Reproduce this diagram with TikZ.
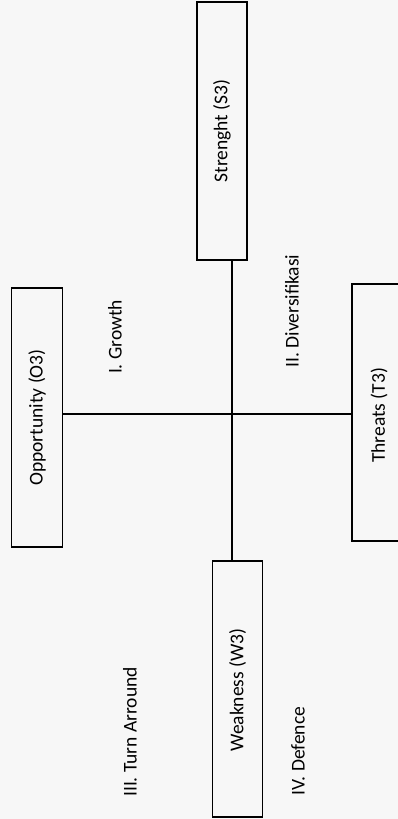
\documentclass[tikz,border=0pt]{standalone}
\usepackage{fontspec}
\setmainfont{Carlito}
\begin{document}
\begin{tikzpicture}[x=1pt,y=1pt,
  boxnode/.style={draw=black,line width=1.1pt,rotate=90,minimum height=50pt,inner sep=0pt,font=\fontsize{19.5}{22}\selectfont},
  quadlabel/.style={rotate=90,inner sep=0pt,font=\fontsize{19.5}{22}\selectfont},
  axisline/.style={draw=black,line width=1.1pt}]
\fill[white!97!black] (0,0) rectangle (398,819);
\useasboundingbox (0,0) rectangle (398,819);
\node[boxnode,minimum width=258pt] (S) at (222,688) {Strenght (S3)};
\node[boxnode,minimum width=259pt,minimum height=51pt] (O) at (37,401.5) {Opportunity (O3)};
\node[boxnode,minimum width=257pt,minimum height=54pt] (T) at (379,406.5) {\hspace*{-6pt}Threats (T3)};
\node[boxnode,minimum width=256pt,minimum height=50pt] (W) at (237.5,130) {\hspace*{-2pt}Weakness (W3)};
\coordinate (C) at (232,405);
\draw[axisline] (S.west -| C) -- (W.east -| C);
\draw[axisline] (O.south |- C) -- (T.north |- C);
\node[quadlabel] (g) at (115,482) {I. Growth};
\node[quadlabel] (d) at (292,508) {II. Diversifikasi};
\node[quadlabel] (ta) at (130,87) {III. Turn Arround};
\node[quadlabel] (df) at (298,68) {IV. Defence};
\end{tikzpicture}
\end{document}
